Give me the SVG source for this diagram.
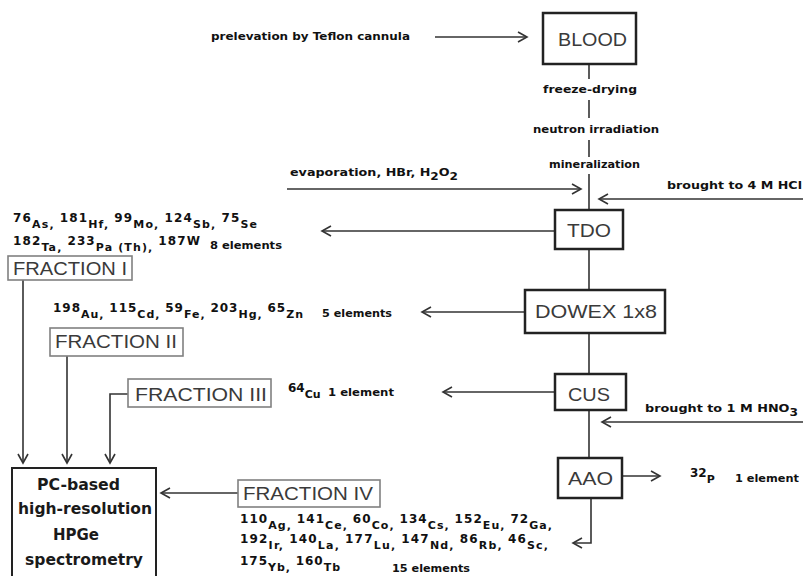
<svg xmlns="http://www.w3.org/2000/svg" width="803" height="576" viewBox="0 0 803 576">
<style>
.box{fill:#fff;stroke:#222;stroke-width:2.5}
.fbox{fill:#fff;stroke:#808080;stroke-width:1.6}
.pbox{fill:#fff;stroke:#222;stroke-width:2}
.lbl{font-family:"Liberation Sans","DejaVu Sans",sans-serif;font-size:19px;fill:#3a3a3a}
.sm{font-family:"DejaVu Sans","Liberation Sans",sans-serif;font-weight:bold;font-size:10.5px;fill:#111}
.el{font-family:"DejaVu Sans","Liberation Sans",sans-serif;font-weight:bold;font-size:11px;fill:#111}
.n{font-size:12px}
.pc{font-family:"DejaVu Sans","Liberation Sans",sans-serif;font-weight:bold;font-size:15px;fill:#1a1a1a}
.ln{fill:none;stroke:#333;stroke-width:1.6}
</style>
<defs>
<marker id="ah" viewBox="-11 -7 13 14" refX="0" refY="0" markerWidth="13" markerHeight="14" markerUnits="userSpaceOnUse" orient="auto">
<path d="M-9,-5 L0,0 L-9,5" fill="none" stroke="#333" stroke-width="1.6"/>
</marker>
</defs>
<rect width="803" height="576" fill="#fff"/>

<g id="connectors">
<line class="ln" x1="435" y1="37" x2="527" y2="37" marker-end="url(#ah)"/>
<line class="ln" x1="589" y1="64" x2="589" y2="79"/>
<line class="ln" x1="589" y1="100" x2="589" y2="118"/>
<line class="ln" x1="589" y1="140" x2="589" y2="157"/>
<line class="ln" x1="589" y1="174" x2="589" y2="210"/>
<line class="ln" x1="287" y1="189" x2="581" y2="189" marker-end="url(#ah)"/>
<line class="ln" x1="803" y1="199" x2="599" y2="199" marker-end="url(#ah)"/>
<line class="ln" x1="555" y1="231" x2="322" y2="231" marker-end="url(#ah)"/>
<line class="ln" x1="589" y1="249" x2="589" y2="290"/>
<line class="ln" x1="525" y1="312" x2="422" y2="312" marker-end="url(#ah)"/>
<line class="ln" x1="589" y1="333" x2="589" y2="374"/>
<line class="ln" x1="555" y1="392" x2="443" y2="392" marker-end="url(#ah)"/>
<line class="ln" x1="803" y1="422" x2="602" y2="422" marker-end="url(#ah)"/>
<line class="ln" x1="589" y1="410" x2="589" y2="458"/>
<line class="ln" x1="622" y1="476" x2="660" y2="476" marker-end="url(#ah)"/>
<polyline class="ln" points="591,498 591,543 573,543" marker-end="url(#ah)"/>
<line class="ln" x1="23" y1="280" x2="23" y2="463" marker-end="url(#ah)"/>
<line class="ln" x1="67" y1="356" x2="67" y2="463" marker-end="url(#ah)"/>
<polyline class="ln" points="128,394 110,394 110,463" marker-end="url(#ah)"/>
<line class="ln" x1="238" y1="493" x2="161" y2="493" marker-end="url(#ah)"/>
</g>

<g id="labels">
<text class="sm" x="211" y="40" textLength="199" lengthAdjust="spacingAndGlyphs">prelevation by Teflon cannula</text>
<text class="sm" x="543" y="93" textLength="94" lengthAdjust="spacingAndGlyphs">freeze-drying</text>
<text class="sm" x="533" y="133" textLength="126" lengthAdjust="spacingAndGlyphs">neutron irradiation</text>
<text class="sm" x="549" y="168" textLength="91" lengthAdjust="spacingAndGlyphs">mineralization</text>
<text class="sm" x="290" y="176" textLength="168" lengthAdjust="spacingAndGlyphs">evaporation, HBr, H<tspan dy="4" font-size="10px">2</tspan><tspan dy="-4">O</tspan><tspan dy="4" font-size="10px">2</tspan></text>
<text class="sm" x="667" y="189" textLength="135" lengthAdjust="spacingAndGlyphs">brought to 4 M HCl</text>
<text class="sm" x="645" y="412" textLength="153" lengthAdjust="spacingAndGlyphs">brought to 1 M HNO<tspan dy="4" font-size="10px">3</tspan></text>
<text class="el" x="690" y="483"><tspan class="n" dy="-6">32</tspan><tspan dy="6">P</tspan></text>
<text class="sm" x="735" y="482" textLength="64" lengthAdjust="spacingAndGlyphs">1 element</text>
<text class="el" x="288" y="398"><tspan class="n" dy="-6">64</tspan><tspan dy="6">Cu</tspan></text>
<text class="sm" x="328" y="396" textLength="66" lengthAdjust="spacingAndGlyphs">1 element</text>

<text class="el" x="13" y="228" textLength="244" lengthAdjust="spacing"><tspan class="n" dy="-6">76</tspan><tspan dy="6">As, </tspan><tspan class="n" dy="-6">181</tspan><tspan dy="6">Hf, </tspan><tspan class="n" dy="-6">99</tspan><tspan dy="6">Mo, </tspan><tspan class="n" dy="-6">124</tspan><tspan dy="6">Sb, </tspan><tspan class="n" dy="-6">75</tspan><tspan dy="6">Se</tspan></text>
<text class="el" x="13" y="251" textLength="187" lengthAdjust="spacing"><tspan class="n" dy="-6">182</tspan><tspan dy="6">Ta, </tspan><tspan class="n" dy="-6">233</tspan><tspan dy="6">Pa (Th), </tspan><tspan class="n" dy="-6">187W</tspan></text>
<text class="sm" x="210" y="249" textLength="72" lengthAdjust="spacingAndGlyphs">8 elements</text>

<text class="el" x="53" y="318" textLength="250" lengthAdjust="spacing"><tspan class="n" dy="-6">198</tspan><tspan dy="6">Au, </tspan><tspan class="n" dy="-6">115</tspan><tspan dy="6">Cd, </tspan><tspan class="n" dy="-6">59</tspan><tspan dy="6">Fe, </tspan><tspan class="n" dy="-6">203</tspan><tspan dy="6">Hg, </tspan><tspan class="n" dy="-6">65</tspan><tspan dy="6">Zn</tspan></text>
<text class="sm" x="322" y="317" textLength="70" lengthAdjust="spacingAndGlyphs">5 elements</text>

<text class="el" x="240" y="529" textLength="312" lengthAdjust="spacing"><tspan class="n" dy="-6">110</tspan><tspan dy="6">Ag, </tspan><tspan class="n" dy="-6">141</tspan><tspan dy="6">Ce, </tspan><tspan class="n" dy="-6">60</tspan><tspan dy="6">Co, </tspan><tspan class="n" dy="-6">134</tspan><tspan dy="6">Cs, </tspan><tspan class="n" dy="-6">152</tspan><tspan dy="6">Eu, </tspan><tspan class="n" dy="-6">72</tspan><tspan dy="6">Ga,</tspan></text>
<text class="el" x="240" y="549" textLength="308" lengthAdjust="spacing"><tspan class="n" dy="-6">192</tspan><tspan dy="6">Ir, </tspan><tspan class="n" dy="-6">140</tspan><tspan dy="6">La, </tspan><tspan class="n" dy="-6">177</tspan><tspan dy="6">Lu, </tspan><tspan class="n" dy="-6">147</tspan><tspan dy="6">Nd, </tspan><tspan class="n" dy="-6">86</tspan><tspan dy="6">Rb, </tspan><tspan class="n" dy="-6">46</tspan><tspan dy="6">Sc,</tspan></text>
<text class="el" x="240" y="571" textLength="100" lengthAdjust="spacing"><tspan class="n" dy="-6">175</tspan><tspan dy="6">Yb, </tspan><tspan class="n" dy="-6">160</tspan><tspan dy="6">Tb</tspan></text>
<text class="sm" x="392" y="572" textLength="78" lengthAdjust="spacingAndGlyphs">15 elements</text>
</g>

<g id="blood"><rect class="box" x="543" y="13" width="93" height="51"/><text class="lbl" x="558" y="46" textLength="69" lengthAdjust="spacingAndGlyphs">BLOOD</text></g>
<g id="tdo"><rect class="box" x="555" y="210" width="68" height="39"/><text class="lbl" x="567" y="237" textLength="44" lengthAdjust="spacingAndGlyphs">TDO</text></g>
<g id="dowex"><rect class="box" x="525" y="290" width="140" height="43"/><text class="lbl" x="535" y="318" textLength="122" lengthAdjust="spacingAndGlyphs">DOWEX 1x8</text></g>
<g id="cus"><rect class="box" x="555" y="374" width="71" height="36"/><text class="lbl" x="568" y="401" textLength="42" lengthAdjust="spacingAndGlyphs">CUS</text></g>
<g id="aao"><rect class="box" x="558" y="458" width="64" height="40"/><text class="lbl" x="568" y="485" textLength="45" lengthAdjust="spacingAndGlyphs">AAO</text></g>
<g id="fraction1"><rect class="fbox" x="8" y="256" width="124" height="24"/><text class="lbl" x="13" y="275" textLength="114" lengthAdjust="spacingAndGlyphs">FRACTION I</text></g>
<g id="fraction2"><rect class="fbox" x="50" y="328" width="133" height="28"/><text class="lbl" x="55" y="348" textLength="122" lengthAdjust="spacingAndGlyphs">FRACTION II</text></g>
<g id="fraction3"><rect class="fbox" x="128" y="379" width="143" height="28"/><text class="lbl" x="135" y="401" textLength="132" lengthAdjust="spacingAndGlyphs">FRACTION III</text></g>
<g id="fraction4"><rect class="fbox" x="238" y="480" width="142" height="27"/><text class="lbl" x="243" y="500" textLength="130" lengthAdjust="spacingAndGlyphs">FRACTION IV</text></g>
<g id="pc"><rect class="pbox" x="12" y="468" width="144" height="114"/>
<text class="pc" x="37" y="490" textLength="83" lengthAdjust="spacingAndGlyphs">PC-based</text>
<text class="pc" x="18" y="514" textLength="134" lengthAdjust="spacingAndGlyphs">high-resolution</text>
<text class="pc" x="53" y="540" textLength="46" lengthAdjust="spacingAndGlyphs">HPGe</text>
<text class="pc" x="25" y="565" textLength="118" lengthAdjust="spacingAndGlyphs">spectrometry</text>
</g>
</svg>
